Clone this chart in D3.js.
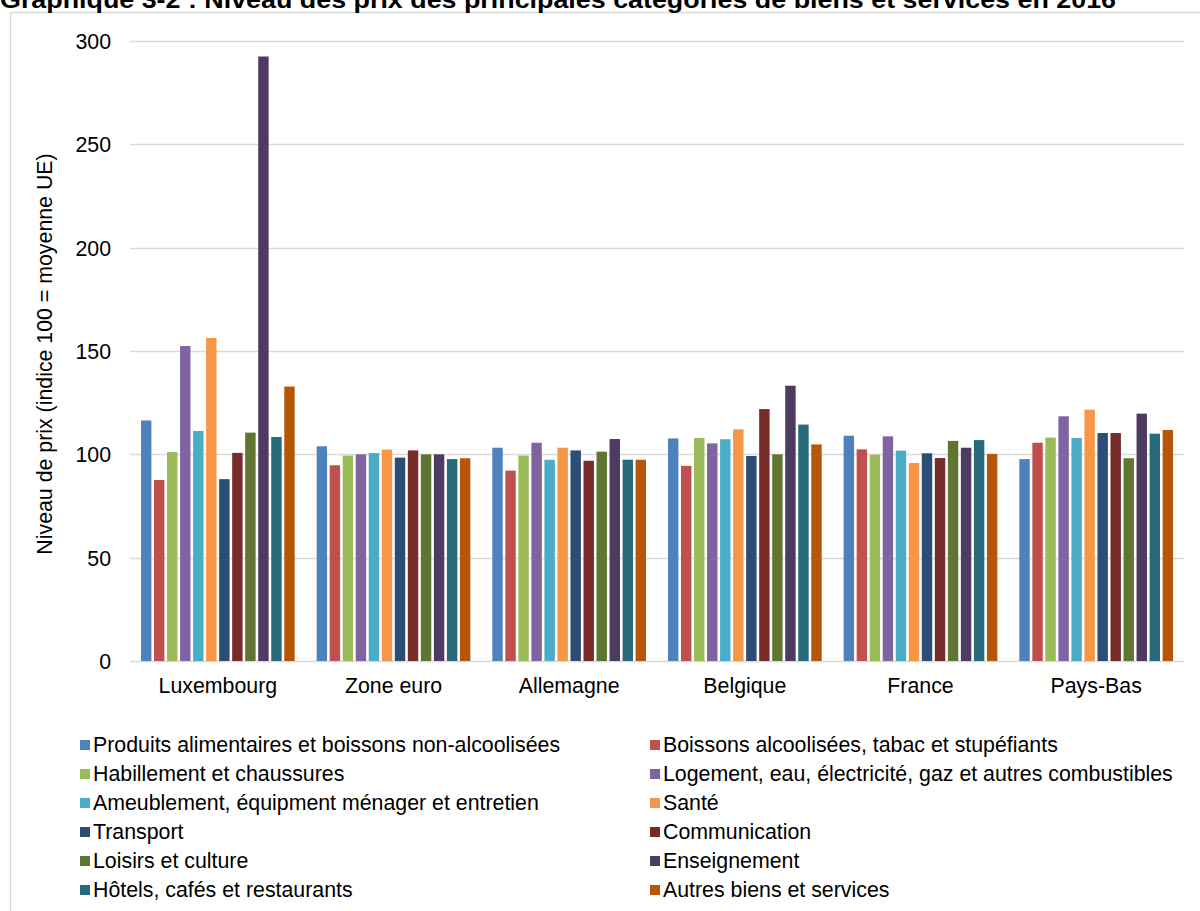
<!DOCTYPE html>
<html><head><meta charset="utf-8">
<script src="https://cdn.jsdelivr.net/npm/d3@7"></script>
<style>
html,body{margin:0;padding:0;background:#fff;overflow:hidden;}
svg{display:block;font-family:"Liberation Sans",Arial,sans-serif;}
</style></head>
<body>
<svg id="c" width="1200" height="911"></svg>
<script>
const title = "Graphique 3-2 : Niveau des prix des principales catégories de biens et services en 2016";
const yTitle = "Niveau de prix (indice 100 = moyenne UE)";
const countries = ["Luxembourg","Zone euro","Allemagne","Belgique","France","Pays-Bas"];
const seriesNames = [
  "Produits alimentaires et boissons non-alcoolisées",
  "Boissons alcoolisées, tabac et stupéfiants",
  "Habillement et chaussures",
  "Logement, eau, électricité, gaz et autres combustibles",
  "Ameublement, équipment ménager et entretien",
  "Santé",
  "Transport",
  "Communication",
  "Loisirs et culture",
  "Enseignement",
  "Hôtels, cafés et restaurants",
  "Autres biens et services"
];
const colors = ["#4f81bd","#c0504d","#9bbb59","#8064a2","#4bacc6","#f79646","#2c4d75","#772c2a","#5f7530","#4d3b62","#276a7c","#b65708"];
// values per series, in country order
const produits     = [116.4, 103.9, 103.2, 107.7, 109.0,  97.7];
const boissons     = [ 87.6,  94.7,  92.1,  94.4, 102.4, 105.6];
const habillement  = [101.1,  99.4,  99.4, 107.9,  99.8, 108.1];
const logement     = [152.4, 100.0, 105.6, 105.3, 108.7, 118.4];
const ameublement  = [111.3, 100.6,  97.4, 107.3, 101.8, 107.9];
const sante        = [156.3, 102.3, 103.2, 112.1,  95.8, 121.6];
const transport    = [ 88.0,  98.4, 101.9,  99.2, 100.5, 110.3];
const communication= [100.7, 101.9,  96.9, 121.9,  98.2, 110.3];
const loisirs      = [110.5, 100.0, 101.3, 100.0, 106.5,  98.1];
const enseignement = [292.5, 100.0, 107.4, 133.2, 103.2, 119.7];
const hotels       = [108.4,  97.7,  97.4, 114.4, 106.9, 110.0];
const autres       = [132.8,  98.1,  97.4, 104.8, 100.2, 111.8];
const yTicks = [0,50,100,150,200,250,300];

const seriesValues = [produits,boissons,habillement,logement,ameublement,sante,transport,communication,loisirs,enseignement,hotels,autres];

const FS = 21.33;
const svg = d3.select("#c");
// frame
svg.append("rect").attr("x",10.5).attr("y",12.5).attr("width",1200).attr("height",920)
  .attr("fill","none").attr("stroke","#d9d9d9").attr("stroke-width",1.5);

svg.append("text").attr("x",0).attr("y",8).attr("font-size",24).attr("font-weight","bold")
  .attr("textLength",1116).attr("lengthAdjust","spacingAndGlyphs")
  .attr("fill","#000").text(title);

const pLeft=130, pRight=1184, pTop=41, pBottom=661;
const x0 = d3.scaleBand().domain(countries).range([pLeft,pRight]).paddingInner(0.125).paddingOuter(0.0625);
const x1 = d3.scaleBand().domain(d3.range(seriesNames.length)).range([0,x0.bandwidth()]).paddingInner(0.2).paddingOuter(0);
const y = d3.scaleLinear().domain([0,300]).range([pBottom,pTop]);

// gridlines
svg.append("g").selectAll("line").data(yTicks).join("line")
  .attr("x1",pLeft).attr("x2",pRight).attr("y1",d=>Math.round(y(d))+0.5).attr("y2",d=>Math.round(y(d))+0.5)
  .attr("stroke","#d9d9d9").attr("stroke-width",1.5);

// y axis labels
const yAxis = d3.axisLeft(y).tickValues(yTicks).tickSize(0).tickPadding(0);
const ga = svg.append("g").attr("transform",`translate(111,0)`).call(yAxis);
ga.select(".domain").remove();
ga.selectAll("text").attr("font-size",FS).attr("fill","#000").attr("font-family","Liberation Sans, Arial, sans-serif").attr("dy","0.35em");

// bars
const groups = svg.append("g").selectAll("g").data(countries).join("g")
  .attr("transform",d=>`translate(${x0(d)},0)`);
groups.selectAll("rect").data((c,ci)=>seriesValues.map((s,si)=>({si,v:s[ci]}))).join("rect")
  .attr("x",d=>x1(d.si)).attr("width",x1.bandwidth())
  .attr("y",d=>y(d.v)).attr("height",d=>y(0)-y(d.v))
  .attr("fill",d=>colors[d.si]);

// x axis labels
const xAxis = d3.axisBottom(x0).tickSize(0).tickPadding(0);
const gx = svg.append("g").attr("transform",`translate(0,${pBottom})`).call(xAxis);
gx.select(".domain").remove();
gx.selectAll("text").attr("font-size",FS).attr("fill","#000").attr("font-family","Liberation Sans, Arial, sans-serif").attr("dy","0").attr("y",32);

// y title
svg.append("text").attr("transform",`translate(52,354) rotate(-90)`).attr("text-anchor","middle")
  .attr("font-size",FS).attr("fill","#000").text(yTitle);

// legend
const lg = svg.append("g");
seriesNames.forEach((n,i)=>{
  const col = i%2, row = Math.floor(i/2);
  const lx = col===0 ? 80 : 650, ly = 745 + row*29;
  lg.append("rect").attr("x",lx).attr("y",ly-5).attr("width",10).attr("height",10).attr("fill",colors[i]);
  lg.append("text").attr("x",lx+13).attr("y",ly).attr("dy","0.35em").attr("font-size",FS).attr("fill","#000").text(n);
});
</script>
</body></html>
